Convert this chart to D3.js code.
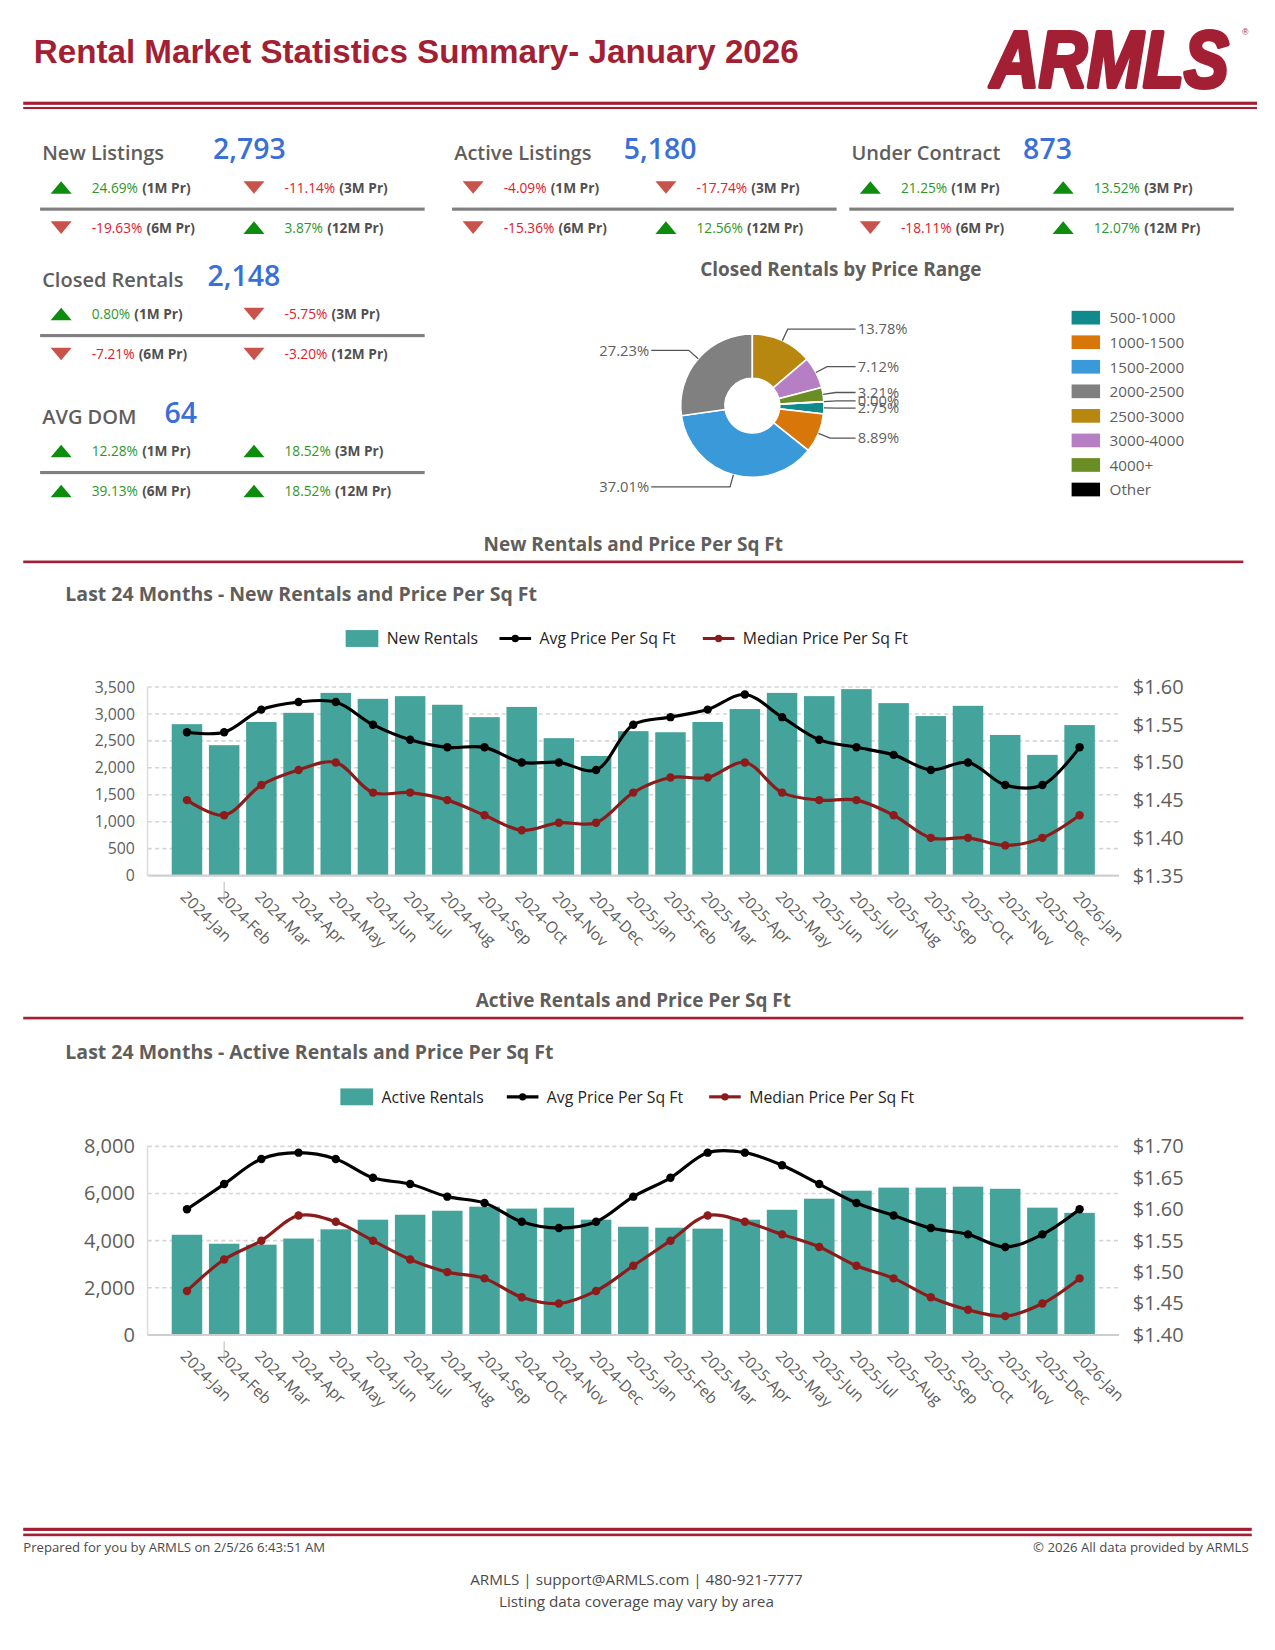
<!DOCTYPE html>
<html>
<head>
<meta charset="utf-8">
<script src="https://cdn.jsdelivr.net/npm/d3@7"></script>
<style>
  body { margin: 0; background: #fff; }
  svg { display: block; }
  text { font-family: "Segoe UI", "Open Sans", sans-serif; }
</style>
</head>
<body>
<div class="chart"></div>
<script>
// ---- data ----
const kpiNames = ['New Listings', 'Active Listings', 'Under Contract', 'Closed Rentals', 'AVG DOM'];
const kpiValues = ['2,793', '5,180', '873', '2,148', '64'];
const kpiChanges = [
  [24.69, -11.14, -19.63, 3.87],
  [-4.09, -17.74, -15.36, 12.56],
  [21.25, 13.52, -18.11, 12.07],
  [0.80, -5.75, -7.21, -3.20],
  [12.28, 18.52, 39.13, 18.52]
];
const kpiPeriods = ['(1M Pr)', '(3M Pr)', '(6M Pr)', '(12M Pr)'];

const priceRanges = ['500-1000', '1000-1500', '1500-2000', '2000-2500', '2500-3000', '3000-4000', '4000+', 'Other'];
const closedShares = [2.75, 8.89, 37.01, 27.23, 13.78, 7.12, 3.21, 0.00];
const rangeColors = ['#118a8b', '#d9760a', '#3a9ad9', '#808080', '#b8870f', '#b67fc3', '#6a8e24', '#000000'];

const months = ['2024-Jan', '2024-Feb', '2024-Mar', '2024-Apr', '2024-May', '2024-Jun', '2024-Jul', '2024-Aug',
  '2024-Sep', '2024-Oct', '2024-Nov', '2024-Dec', '2025-Jan', '2025-Feb', '2025-Mar', '2025-Apr', '2025-May',
  '2025-Jun', '2025-Jul', '2025-Aug', '2025-Sep', '2025-Oct', '2025-Nov', '2025-Dec', '2026-Jan'];

const newRentals = [2810, 2420, 2850, 3020, 3390, 3280, 3330, 3170, 2940, 3130, 2550, 2220,
  2680, 2660, 2850, 3090, 3390, 3330, 3460, 3200, 2960, 3150, 2610, 2240, 2793];
const newAvgPpsf = [1.54, 1.54, 1.57, 1.58, 1.58, 1.55, 1.53, 1.52, 1.52, 1.50, 1.50, 1.49,
  1.55, 1.56, 1.57, 1.59, 1.56, 1.53, 1.52, 1.51, 1.49, 1.50, 1.47, 1.47, 1.52];
const newMedianPpsf = [1.45, 1.43, 1.47, 1.49, 1.50, 1.46, 1.46, 1.45, 1.43, 1.41, 1.42, 1.42,
  1.46, 1.48, 1.48, 1.50, 1.46, 1.45, 1.45, 1.43, 1.40, 1.40, 1.39, 1.40, 1.43];
const newLeftTicks = [0, 500, 1000, 1500, 2000, 2500, 3000, 3500];
const newRightTicks = [1.35, 1.40, 1.45, 1.50, 1.55, 1.60];

const activeRentals = [4250, 3870, 3830, 4090, 4480, 4890, 5100, 5270, 5440, 5360, 5400, 4890,
  4590, 4550, 4510, 4890, 5310, 5780, 6120, 6250, 6250, 6290, 6200, 5400, 5180];
const activeAvgPpsf = [1.60, 1.64, 1.68, 1.69, 1.68, 1.65, 1.64, 1.62, 1.61, 1.58, 1.57, 1.58,
  1.62, 1.65, 1.69, 1.69, 1.67, 1.64, 1.61, 1.59, 1.57, 1.56, 1.54, 1.56, 1.60];
const activeMedianPpsf = [1.47, 1.52, 1.55, 1.59, 1.58, 1.55, 1.52, 1.50, 1.49, 1.46, 1.45, 1.47,
  1.51, 1.55, 1.59, 1.58, 1.56, 1.54, 1.51, 1.49, 1.46, 1.44, 1.43, 1.45, 1.49];
const activeLeftTicks = [0, 2000, 4000, 6000, 8000];
const activeRightTicks = [1.40, 1.45, 1.50, 1.55, 1.60, 1.65, 1.70];

// ---- colours ----
const brandRed = '#a31f34';
const labelGray = '#605e5c';
const barColor = '#44a39a';
const avgColor = '#000000';
const medianColor = '#8c1c1c';

const svg = d3.select('.chart')
  .append('svg')
    .attr('width', 1275)
    .attr('height', 1650)
    .attr('viewBox', '0 0 1210 1566');

// ---- header ----
svg.append('text')
  .attr('x', 32).attr('y', 60)
  .style('font-family', '"Liberation Sans Narrow", "Liberation Sans", sans-serif')
  .attr('font-size', 32).attr('font-weight', 'bold')
  .attr('textLength', 726).attr('lengthAdjust', 'spacingAndGlyphs')
  .attr('fill', brandRed)
  .text('Rental Market Statistics Summary- January 2026');

svg.append('text')
  .attr('x', 940).attr('y', 83)
  .style('font-family', '"Liberation Sans", sans-serif')
  .attr('font-size', 76).attr('font-weight', 900).attr('font-style', 'italic')
  .attr('textLength', 226).attr('lengthAdjust', 'spacingAndGlyphs')
  .attr('fill', brandRed).attr('stroke', brandRed).attr('stroke-width', 4)
  .attr('stroke-linejoin', 'round')
  .text('ARMLS');
svg.append('text')
  .attr('x', 1179).attr('y', 33)
  .style('font-family', '"Liberation Sans", sans-serif')
  .attr('font-size', 8).attr('fill', brandRed)
  .text('®');

svg.append('rect').attr('x', 22).attr('y', 96.5).attr('width', 1171).attr('height', 3).attr('fill', brandRed);
svg.append('rect').attr('x', 22).attr('y', 101.5).attr('width', 1171).attr('height', 2).attr('fill', brandRed);

// ---- KPI cards ----
const kpiPos = [
  { x: 40, y: 152, vx: 162 },
  { x: 431, y: 152, vx: 161 },
  { x: 808, y: 152, vx: 163 },
  { x: 40, y: 272, vx: 157 },
  { x: 40, y: 402, vx: 116 }
];

function triangle(g, up) {
  g.append('path')
    .attr('d', up ? 'M-10,6L10,6L0,-6Z' : 'M-10,-6L10,-6L0,6Z')
    .attr('fill', up ? '#0e8c0e' : '#c9534b');
}

kpiNames.forEach((name, k) => {
  const p = kpiPos[k];
  const g = svg.append('g').attr('transform', `translate(${p.x}, ${p.y})`);
  g.append('text')
    .attr('font-size', 19).attr('font-weight', 600).attr('fill', labelGray)
    .text(name);
  g.append('text')
    .attr('x', p.vx)
    .attr('font-size', 27).attr('font-weight', 600).attr('fill', '#3a6fd8')
    .attr('y', -1)
    .text(kpiValues[k]);

  g.append('rect')
    .attr('x', -2).attr('y', 45).attr('width', 365).attr('height', 3)
    .attr('fill', '#808080');

  kpiChanges[k].forEach((v, j) => {
    const cx = j % 2 === 0 ? 18 : 201;
    const ty = j < 2 ? 31 : 69;
    const t = g.append('g').attr('transform', `translate(${cx}, ${ty - 5})`);
    triangle(t, v >= 0);
    const txt = g.append('text')
      .attr('x', cx + 29).attr('y', ty)
      .attr('font-size', 13);
    txt.append('tspan')
      .attr('fill', v >= 0 ? '#2e962e' : '#e0202c')
      .text(v.toFixed(2) + '%');
    txt.append('tspan')
      .attr('dx', 4)
      .attr('fill', '#505050').attr('font-weight', 'bold')
      .text(kpiPeriods[j]);
  });
});

// ---- donut: closed rentals by price range ----
svg.append('text')
  .attr('x', 798).attr('y', 262)
  .attr('text-anchor', 'middle')
  .attr('font-size', 18).attr('font-weight', 'bold').attr('fill', labelGray)
  .text('Closed Rentals by Price Range');

const pieData = priceRanges.map((r, i) => ({ range: r, share: closedShares[i], color: rangeColors[i] }));
const lead = d3.sum(closedShares.slice(0, 4)) / d3.sum(closedShares) * 2 * Math.PI;
const pie = d3.pie().value(d => d.share).sort(null)
  .startAngle(-lead).endAngle(2 * Math.PI - lead);
const arcs = pie(pieData);
const cx = 714, cy = 385;
const arc = d3.arc().innerRadius(26).outerRadius(68);
const outerArc = d3.arc().innerRadius(68).outerRadius(68);
const elbowArc = d3.arc().innerRadius(80).outerRadius(80);

const pg = svg.append('g').attr('transform', `translate(${cx}, ${cy})`);
pg.selectAll('path.slice')
  .data(arcs)
  .enter()
  .append('path')
    .attr('class', 'slice')
    .attr('d', arc)
    .attr('fill', d => d.data.color)
    .attr('stroke', '#fff')
    .attr('stroke-width', 1.5);

arcs.forEach(d => {
  const mid = (d.startAngle + d.endAngle) / 2;
  const right = Math.sin(mid) > 0;
  const a = outerArc.centroid(d);
  const b = elbowArc.centroid(d);
  const endX = right ? 98 : -96;
  pg.append('polyline')
    .attr('points', [a, b, [endX, b[1]]].map(p => p.join(',')).join(' '))
    .attr('fill', 'none').attr('stroke', '#555').attr('stroke-width', 1.2);
  pg.append('text')
    .attr('x', right ? endX + 2 : endX - 2)
    .attr('y', b[1])
    .attr('dy', '0.35em')
    .attr('text-anchor', right ? 'start' : 'end')
    .attr('font-size', 14).attr('fill', '#5f5f5f')
    .text(d.data.share.toFixed(2) + '%');
});

const lg = svg.append('g').attr('transform', 'translate(1017, 295)');
priceRanges.forEach((r, i) => {
  lg.append('rect')
    .attr('x', 0).attr('y', i * 23.3).attr('width', 27).attr('height', 13)
    .attr('fill', rangeColors[i]);
  lg.append('text')
    .attr('x', 36).attr('y', i * 23.3 + 12)
    .attr('font-size', 14.5).attr('fill', labelGray)
    .text(r);
});

// ---- combo charts ----
function comboChart(cfg) {
  const left = 140, right = 1062;
  const g = svg.append('g');

  g.append('text')
    .attr('x', 601).attr('y', cfg.sectionY)
    .attr('text-anchor', 'middle')
    .attr('font-size', 18).attr('font-weight', 'bold').attr('fill', labelGray)
    .text(cfg.section);
  g.append('rect')
    .attr('x', 22).attr('y', cfg.sectionY + 9).attr('width', 1158).attr('height', 2.5)
    .attr('fill', brandRed);
  g.append('text')
    .attr('x', 62).attr('y', cfg.titleY)
    .attr('font-size', 18.5).attr('font-weight', 'bold').attr('fill', labelGray)
    .text(cfg.title);

  // legend
  const lgY = cfg.titleY + 36;
  const leg = g.append('g').attr('transform', `translate(${cfg.legendX}, ${lgY})`);
  leg.append('rect').attr('x', 0).attr('y', -8).attr('width', 31).attr('height', 16).attr('fill', barColor);
  leg.append('text').attr('x', 39).attr('y', 5.5).attr('font-size', 15).attr('fill', '#252423').text(cfg.barName);
  [[cfg.legendGap, avgColor, 'Avg Price Per Sq Ft'], [cfg.legendGap2, medianColor, 'Median Price Per Sq Ft']]
    .forEach(([dx, c, name]) => {
      leg.append('line').attr('x1', dx).attr('x2', dx + 30).attr('y1', 0).attr('y2', 0)
        .attr('stroke', c).attr('stroke-width', 3);
      leg.append('circle').attr('cx', dx + 15).attr('cy', 0).attr('r', 3.5).attr('fill', c);
      leg.append('text').attr('x', dx + 38).attr('y', 5.5).attr('font-size', 15).attr('fill', '#252423').text(name);
    });

  const x = d3.scaleBand().domain(months).range([left, right]).paddingInner(0.18).paddingOuter(0.65);
  const yL = d3.scaleLinear().domain(d3.extent(cfg.leftTicks)).range([cfg.bottom, cfg.top]);
  const yR = d3.scaleLinear().domain(d3.extent(cfg.rightTicks)).range([cfg.bottom, cfg.top]);

  // grid
  g.selectAll('line.grid')
    .data(cfg.leftTicks.filter(t => t > 0))
    .enter()
    .append('line')
      .attr('class', 'grid')
      .attr('x1', left).attr('x2', right)
      .attr('y1', d => yL(d)).attr('y2', d => yL(d))
      .attr('stroke', '#d6d6d6').attr('stroke-width', 1.5).attr('stroke-dasharray', '4,3');
  g.append('line')
    .attr('x1', left).attr('x2', left).attr('y1', cfg.top).attr('y2', cfg.bottom)
    .attr('stroke', '#dcdcdc').attr('stroke-width', 1.5);

  // bars
  g.selectAll('rect.bar')
    .data(cfg.bars)
    .enter()
    .append('rect')
      .attr('class', 'bar')
      .attr('x', (d, i) => x(months[i]))
      .attr('y', d => yL(d))
      .attr('width', x.bandwidth())
      .attr('height', d => cfg.bottom - yL(d))
      .attr('fill', barColor);

  g.append('line')
    .attr('x1', left).attr('x2', right).attr('y1', cfg.bottom).attr('y2', cfg.bottom)
    .attr('stroke', '#cfcfcf').attr('stroke-width', 2);
  g.append('line')
    .attr('x1', x(months[1]) + x.bandwidth() / 2).attr('x2', x(months[1]) + x.bandwidth() / 2)
    .attr('y1', cfg.bottom + 6).attr('y2', cfg.bottom + 24)
    .attr('stroke', '#c8c8c8').attr('stroke-width', 1.2);

  // axes
  const axL = g.append('g')
    .attr('transform', `translate(${left}, 0)`)
    .call(d3.axisLeft(yL).tickValues(cfg.leftTicks).tickFormat(d3.format(',')).tickSize(0).tickPadding(12));
  axL.select('.domain').remove();
  axL.selectAll('text')
    .style('font-family', '"Segoe UI", "Open Sans", sans-serif')
    .attr('font-size', cfg.leftFont).attr('fill', labelGray);

  const axR = g.append('g')
    .attr('transform', `translate(${right}, 0)`)
    .call(d3.axisRight(yR).tickValues(cfg.rightTicks).tickFormat(d => '$' + d.toFixed(2)).tickSize(0).tickPadding(13));
  axR.select('.domain').remove();
  axR.selectAll('text')
    .style('font-family', '"Segoe UI", "Open Sans", sans-serif')
    .attr('font-size', 19).attr('fill', labelGray);

  const axB = g.append('g')
    .attr('transform', `translate(0, ${cfg.bottom})`)
    .call(d3.axisBottom(x).tickSize(0).tickPadding(0));
  axB.select('.domain').remove();
  axB.selectAll('text')
    .style('font-family', '"Segoe UI", "Open Sans", sans-serif')
    .attr('font-size', 15).attr('fill', labelGray)
    .attr('text-anchor', 'start')
    .attr('dy', '0')
    .attr('transform', 'translate(-7, 21) rotate(45)');

  // lines
  const cxOf = i => x(months[i]) + x.bandwidth() / 2;
  [[cfg.avg, avgColor], [cfg.median, medianColor]].forEach(([vals, c]) => {
    const line = d3.line()
      .x((d, i) => cxOf(i))
      .y(d => yR(d))
      .curve(d3.curveCatmullRom);
    g.append('path')
      .datum(vals)
      .attr('d', line)
      .attr('fill', 'none').attr('stroke', c).attr('stroke-width', 3);
    g.selectAll(null)
      .data(vals)
      .enter()
      .append('circle')
        .attr('cx', (d, i) => cxOf(i))
        .attr('cy', d => yR(d))
        .attr('r', 4)
        .attr('fill', c);
  });
}

comboChart({
  section: 'New Rentals and Price Per Sq Ft',
  title: 'Last 24 Months - New Rentals and Price Per Sq Ft',
  sectionY: 523, titleY: 570,
  legendX: 328, legendGap: 146, legendGap2: 339,
  barName: 'New Rentals',
  top: 652, bottom: 831, leftFont: 15,
  bars: newRentals, avg: newAvgPpsf, median: newMedianPpsf,
  leftTicks: newLeftTicks, rightTicks: newRightTicks
});

comboChart({
  section: 'Active Rentals and Price Per Sq Ft',
  title: 'Last 24 Months - Active Rentals and Price Per Sq Ft',
  sectionY: 956, titleY: 1005,
  legendX: 323, legendGap: 158, legendGap2: 350,
  barName: 'Active Rentals',
  top: 1088, bottom: 1267, leftFont: 19,
  bars: activeRentals, avg: activeAvgPpsf, median: activeMedianPpsf,
  leftTicks: activeLeftTicks, rightTicks: activeRightTicks
});

// ---- footer ----
svg.append('rect').attr('x', 22).attr('y', 1450).attr('width', 1166).attr('height', 3).attr('fill', brandRed);
svg.append('rect').attr('x', 22).attr('y', 1455.5).attr('width', 1166).attr('height', 2.5).attr('fill', brandRed);
svg.append('text')
  .attr('x', 22).attr('y', 1473)
  .attr('font-size', 12.5).attr('fill', '#4a4a4a')
  .text('Prepared for you by ARMLS on 2/5/26 6:43:51 AM');
svg.append('text')
  .attr('x', 1185).attr('y', 1473)
  .attr('text-anchor', 'end')
  .attr('font-size', 12.5).attr('fill', '#4a4a4a')
  .text('© 2026 All data provided by ARMLS');
svg.append('text')
  .attr('x', 604).attr('y', 1504)
  .attr('text-anchor', 'middle')
  .attr('font-size', 14.5).attr('fill', '#4a4a4a')
  .text('ARMLS | support@ARMLS.com | 480-921-7777');
svg.append('text')
  .attr('x', 604).attr('y', 1525)
  .attr('text-anchor', 'middle')
  .attr('font-size', 14.5).attr('fill', '#4a4a4a')
  .text('Listing data coverage may vary by area');
</script>
</body>
</html>
